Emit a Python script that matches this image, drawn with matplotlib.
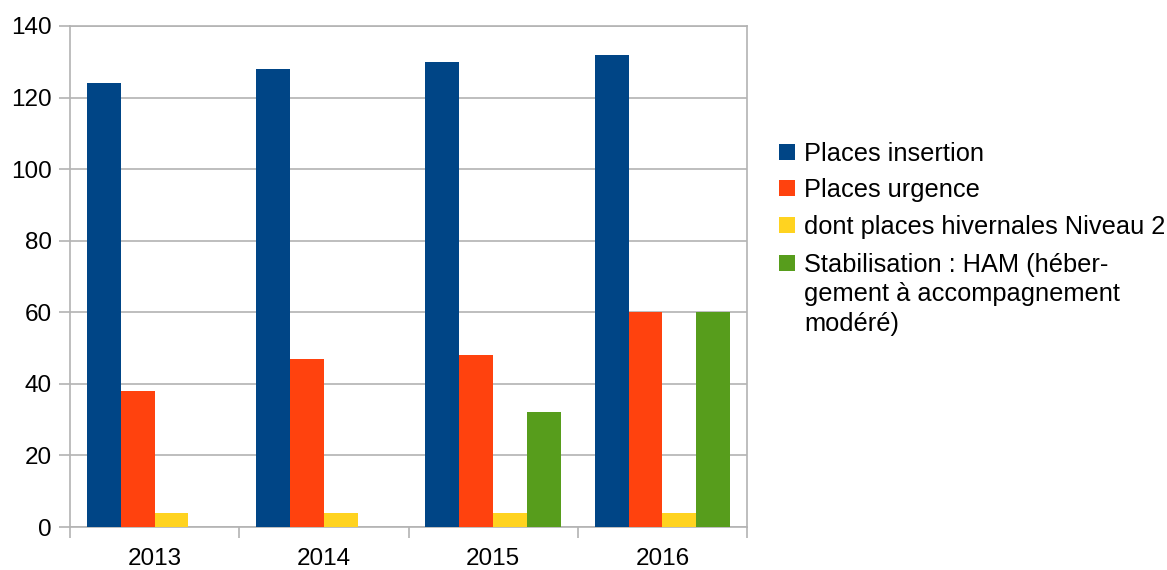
import numpy as np
import matplotlib
matplotlib.use("Agg")
import matplotlib.pyplot as plt
from matplotlib.patches import Rectangle

plt.rcParams["font.family"] = ["Liberation Sans", "DejaVu Sans"]

# data
years = ["2013", "2014", "2015", "2016"]
insertion = [124, 128, 130, 132]
urgence = [38, 47, 48, 60]
hivernales = [4, 4, 4, 4]
ham = [0, 0, 32, 60]
series_labels = ["Places insertion", "Places urgence",
                 "dont places hivernales Niveau 2",
                 "Stabilisation : HAM (héber-\ngement à accompagnement\nmodéré)"]
colors = ["#004586", "#ff420e", "#ffd320", "#579d1c"]
yticks = [0, 20, 40, 60, 80, 100, 120, 140]

W, H = 1167, 570
fig = plt.figure(figsize=(W / 100, H / 100), dpi=100)
ax = fig.add_axes([70 / W, 1 - 527 / H, (747 - 70) / W, (527 - 26) / H])

x = np.arange(len(years))
width = 0.2
all_series = [insertion, urgence, hivernales, ham]
for i, vals in enumerate(all_series):
    ax.bar(x + (i - 1.5) * width, vals, width, color=colors[i], zorder=3)

grid_c = "#b3b3b3"
ax.set_xlim(-0.5, len(years) - 0.5)
ax.set_ylim(0, 140)
ax.set_yticks(yticks)
ax.yaxis.grid(True, color=grid_c, linewidth=1.2, zorder=0)
ax.set_axisbelow(True)

# ticks on category boundaries, labels at centers
ax.set_xticks(np.arange(len(years) + 1) - 0.5)
ax.set_xticklabels([])
ax.set_xticks(x, minor=True)
ax.set_xticklabels(years, minor=True)
ax.tick_params(axis="x", which="major", length=8, width=1.2, color=grid_c)
ax.tick_params(axis="x", which="minor", length=0, pad=15, labelsize=17.5)
ax.tick_params(axis="y", length=8, width=1.2, color=grid_c, pad=5, labelsize=17.5)
for s in ax.spines.values():
    s.set_color(grid_c)
    s.set_linewidth(1.2)

# legend drawn by hand so the marker sits on the first line of the wrapped label
ys = [152, 188, 225, 263]
for lab, c, yy in zip(series_labels, colors, ys):
    fig.patches.append(Rectangle((779 / W, 1 - (yy + 8) / H), 16 / W, 16 / H,
                                 transform=fig.transFigure, facecolor=c,
                                 edgecolor="none"))
    fig.text(804 / W, 1 - (yy - 10) / H, lab, fontsize=18.3, va="top", ha="left",
             linespacing=1.28)

fig.savefig("out.png", dpi=100)
